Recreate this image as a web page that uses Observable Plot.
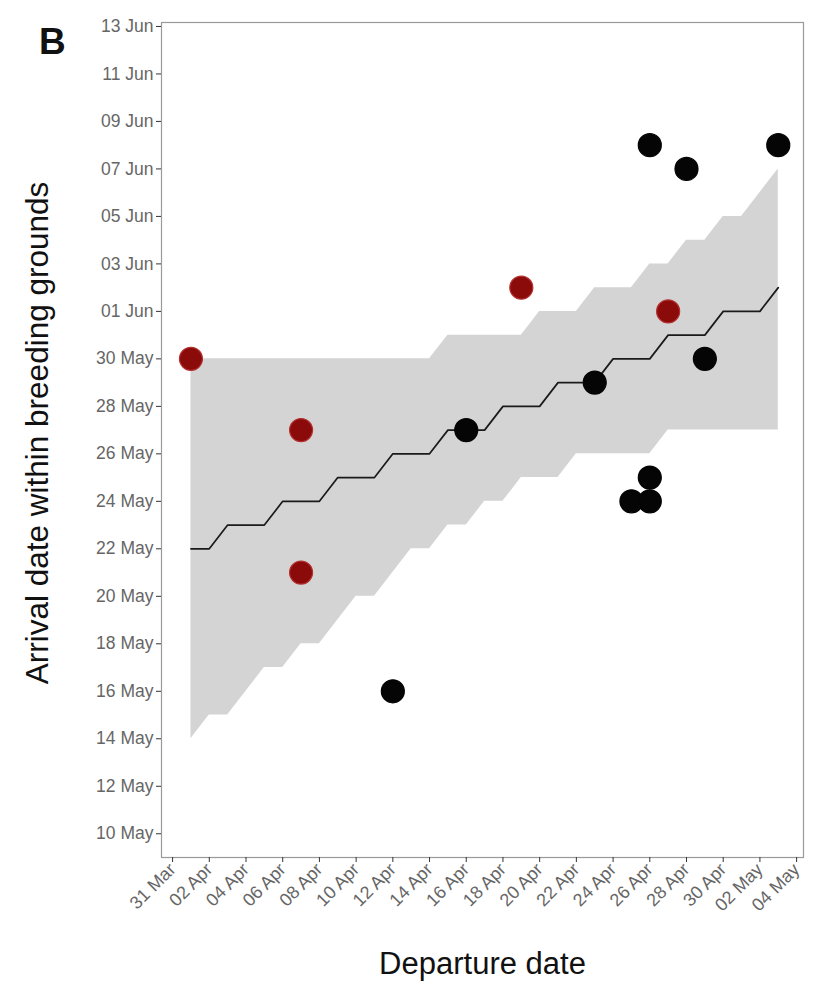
<!DOCTYPE html>
<html>
<head>
<meta charset="utf-8">
<script src="https://cdn.jsdelivr.net/npm/d3@7"></script>
<script src="https://cdn.jsdelivr.net/npm/@observablehq/plot@0.6"></script>
<style>
  html, body { margin: 0; padding: 0; background: #fff; }
  #wrap { position: relative; width: 814px; height: 1000px; font-family: "Liberation Sans", Arial, sans-serif; }
  #panel { position: absolute; left: 39px; top: 21px; font-size: 37px; font-weight: bold; color: #111; }
</style>
</head>
<body>
<div id="wrap"><div id="panel">B</div></div>
<script>
const YEAR = 2021;
// Daily model ribbon (departure date -> arrival date: lower, median, upper)
const ribbonDeparture = ["04-01","04-02","04-03","04-04","04-05","04-06","04-07","04-08","04-09","04-10","04-11","04-12","04-13","04-14","04-15","04-16","04-17","04-18","04-19","04-20","04-21","04-22","04-23","04-24","04-25","04-26","04-27","04-28","04-29","04-30","05-01","05-02","05-03"];
const ribbonLower = ["05-14","05-15","05-15","05-16","05-17","05-17","05-18","05-18","05-19","05-20","05-20","05-21","05-22","05-22","05-23","05-23","05-24","05-24","05-25","05-25","05-25","05-26","05-26","05-26","05-26","05-26","05-27","05-27","05-27","05-27","05-27","05-27","05-27"];
const ribbonMedian = ["05-22","05-22","05-23","05-23","05-23","05-24","05-24","05-24","05-25","05-25","05-25","05-26","05-26","05-26","05-27","05-27","05-27","05-28","05-28","05-28","05-29","05-29","05-29","05-30","05-30","05-30","05-31","05-31","05-31","06-01","06-01","06-01","06-02"];
const ribbonUpper = ["05-30","05-30","05-30","05-30","05-30","05-30","05-30","05-30","05-30","05-30","05-30","05-30","05-30","05-30","05-31","05-31","05-31","05-31","05-31","06-01","06-01","06-01","06-02","06-02","06-02","06-03","06-03","06-04","06-04","06-05","06-05","06-06","06-07"];

// Observed birds
const redDeparture = ["04-01","04-07","04-07","04-19","04-27"];
const redArrival   = ["05-30","05-27","05-21","06-02","06-01"];
const blackDeparture = ["04-12","04-16","04-23","04-25","04-26","04-26","04-26","04-28","04-29","05-03"];
const blackArrival   = ["05-16","05-27","05-29","05-24","05-24","05-25","06-08","06-07","05-30","06-08"];

// Tick labels
const xTickLabels = ["03-31","04-02","04-04","04-06","04-08","04-10","04-12","04-14","04-16","04-18","04-20","04-22","04-24","04-26","04-28","04-30","05-02","05-04"];
const yTickLabels = ["05-10","05-12","05-14","05-16","05-18","05-20","05-22","05-24","05-26","05-28","05-30","06-01","06-03","06-05","06-07","06-09","06-11","06-13"];

const parse = s => { const [m, d] = s.split("-").map(Number); return new Date(Date.UTC(YEAR, m - 1, d)); };

const ribbon = ribbonDeparture.map((d, i) => ({
  dep: parse(d), lo: parse(ribbonLower[i]), med: parse(ribbonMedian[i]), hi: parse(ribbonUpper[i])
}));
const points = [
  ...blackDeparture.map((d, i) => ({dep: parse(d), arr: parse(blackArrival[i]), group: "black"})),
  ...redDeparture.map((d, i) => ({dep: parse(d), arr: parse(redArrival[i]), group: "red"}))
];

const hour = 3600 * 1000;
const xDomain = [new Date(parse("03-31") - 14.5 * hour), new Date(+parse("05-04") + 9 * hour)];
const yDomain = [parse("05-09"), new Date(+parse("06-13") + 4 * hour)];

const chart = Plot.plot({
  width: 814,
  height: 1000,
  marginLeft: 161,
  marginRight: 11,
  marginTop: 22,
  marginBottom: 143,
  style: { fontFamily: "'Liberation Sans', Arial, sans-serif", fontSize: "17.5px", background: "#fff" },
  x: { type: "utc", domain: xDomain },
  y: { type: "utc", domain: yDomain },
  marks: [
    Plot.areaY(ribbon, { x: "dep", y1: "lo", y2: "hi", fill: "#d4d4d4" }),
    Plot.line(ribbon, { x: "dep", y: "med", stroke: "#1a1a1a", strokeWidth: 1.7 }),
    Plot.dot(points, { x: "dep", y: "arr", r: 11.5, fill: d => d.group === "red" ? "#8b0a0a" : "#050505", stroke: d => d.group === "red" ? "#b43030" : "#050505", strokeWidth: 1.2 }),
    Plot.frame({ stroke: "#9a9a9a", strokeWidth: 1.2 }),
    Plot.axisY({ ticks: yTickLabels.map(parse), tickFormat: d3.utcFormat("%d %b"), tickSize: 5, tickPadding: 3, stroke: "#333", fill: "#666", label: null }),
    Plot.axisX({ ticks: xTickLabels.map(parse), tickFormat: d3.utcFormat("%d %b"), tickSize: 5, tickPadding: 4, tickRotate: -45, fontSize: 18, stroke: "#333", fill: "#666", label: null }),
    Plot.text(["Departure date"], { frameAnchor: "bottom", dy: 116, textAnchor: "middle", text: d => d, fontSize: 31, fill: "#111" }),
    Plot.text(["Arrival date within breeding grounds"], { frameAnchor: "left", dx: -124, dy: -7, textAnchor: "middle", rotate: -90, text: d => d, fontSize: 31.5, fill: "#111" })
  ]
});
document.getElementById("wrap").prepend(chart);
</script>
</body>
</html>
